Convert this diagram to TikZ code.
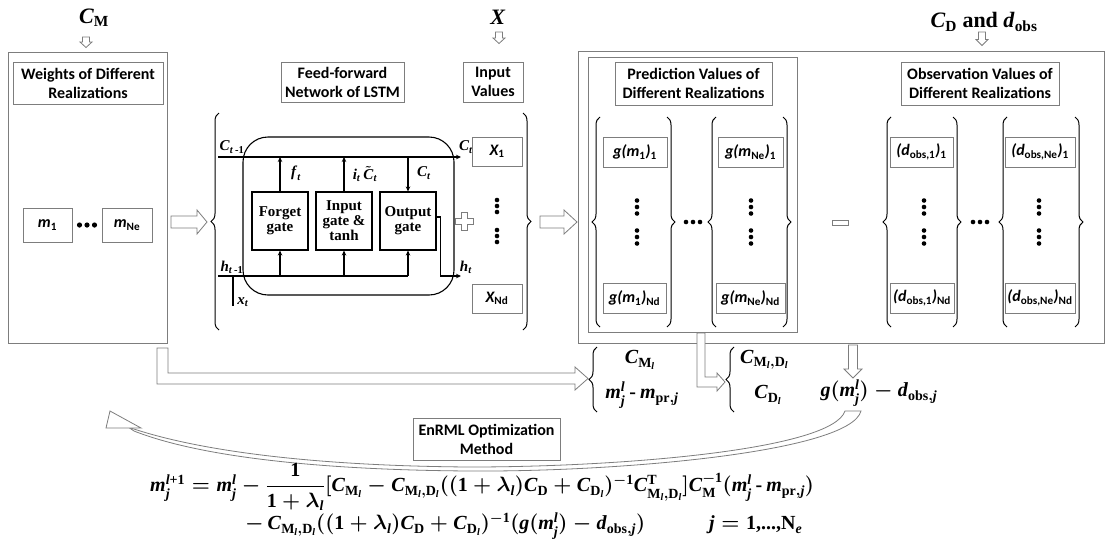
\documentclass[tikz,border=0pt]{standalone}
\usepackage{amsmath}
\usepackage{fontspec}
\setmainfont{Liberation Serif}
\newfontfamily\lab{Carlito}
\usetikzlibrary{decorations.pathreplacing,arrows.meta}

\definecolor{boxgray}{RGB}{125,125,125}
% bold italic / bold upright pieces for the formulas
\newcommand\mi[1]{\textbf{\textit{#1}}}
\newcommand\mr[1]{\textbf{#1}}
% sans bold italic entries with sans bold subscripts
\newcommand\sbi[1]{{\lab\bfseries\itshape #1}}
\newcommand\ssb[1]{\textsubscript{\lab\bfseries #1}}

\begin{document}
\begin{tikzpicture}[x=1pt,y=-1pt,
  lbl/.style={draw=boxgray, line width=0.9pt, font=\lab\bfseries\fontsize{16}{19}\selectfont, align=center, inner sep=0pt},
  outerbox/.style={draw=boxgray, line width=0.9pt, inner sep=0pt},
  gatebox/.style={draw, line width=1.1pt, font=\bfseries\fontsize{15}{15}\selectfont, align=center, minimum width=56, minimum height=58, inner sep=0pt},
  valbox/.style={draw=boxgray, line width=0.9pt, font=\lab\fontsize{16}{18}\selectfont, inner sep=0pt},
  hollow/.style={draw=boxgray, fill=white, line width=0.8pt},
  br/.style={decorate, decoration={brace, amplitude=8pt}, line width=1pt},
  lstm/.style={line width=1.1pt},
  tip/.style={-{Stealth[length=5pt,width=4.5pt]}},
  sm/.style={font=\fontsize{15}{17}\selectfont\boldmath, inner sep=0pt},
  ml/.style={font=\fontsize{22}{26}\selectfont\boldmath, inner sep=0pt},
  eq/.style={font=\fontsize{20}{24}\selectfont\boldmath, inner sep=0pt},
  dot/.style={fill=black}
]
\useasboundingbox (0,0) rectangle (1110,550);

% ---------- weights of the realizations ----------
\node[ml] (cm) at (94,18) {$\mi{C}_{\mr{M}}$};
\draw[hollow] (82.5,37) -- (89.5,37) -- (89.5,42) -- (92,42) -- (86,47.5) -- (80,42) -- (82.5,42) -- cycle;
\node[outerbox, minimum width=159, minimum height=291] (wbox) at (87.5,197.5) {};
\node[lbl, minimum width=150, minimum height=42] (wlab) at (88,83) {Weights of Different\\Realizations};
\node[valbox, minimum width=49, minimum height=34] (m1) at (47.5,225) {\sbi{m}\ssb{1}};
\node[valbox, minimum width=50, minimum height=34] (mne) at (127,225) {\sbi{m}\ssb{Ne}};
\foreach \k in {-7.5,0,7.5} \fill[dot] (87+\k,225) circle (2.6pt);
\draw[hollow] (171,216) -- (197,216) -- (197,210) -- (207,222) -- (197,234) -- (197,228) -- (171,228) -- cycle;

% ---------- LSTM cell and input values ----------
\node[lbl, minimum width=123, minimum height=40] (fflab) at (342.5,82) {Feed-forward\\Network of LSTM};
\node[ml] (xlab) at (498,17) {$\mi{X}$};
\draw[hollow] (495.5,32) -- (502.5,32) -- (502.5,38) -- (505,38) -- (499,43.5) -- (493,38) -- (495.5,38) -- cycle;
\node[lbl, minimum width=60, minimum height=40] (inlab) at (493,82) {Input\\Values};

\draw[br] (219,330) -- (219,113);
\draw[br] (523,113) -- (523,330);

\node[draw, lstm, rounded corners=25pt, minimum width=211, minimum height=158] (cell) at (348.5,216) {};
\node[gatebox] (fg) at (280,221) {Forget\\gate};
\node[gatebox] (ig) at (344,221) {Input\\gate \&\\tanh};
\node[gatebox] (og) at (408,221) {Output\\gate};

\coordinate (cin) at (218,157);
\coordinate (cout) at (461,157);
\coordinate (hin) at (218,276);
\coordinate (hout) at (461,276);
\coordinate (xt) at (233,306);

\draw[lstm, tip] (cin) -- (cout);
\draw[lstm, tip] (fg.north) -- (fg.north |- cin);
\draw[lstm, tip] (ig.north) -- (ig.north |- cin);
\draw[lstm, tip] (og.north |- cin) -- (og.north);
\draw[lstm] (hin) -- (og.south |- hin);
\draw[lstm, tip] (fg.south |- hin) -- (fg.south);
\draw[lstm, tip] (ig.south |- hin) -- (ig.south);
\draw[lstm, tip] (og.south |- hin) -- (og.south);
\draw[lstm, tip] ([yshift=4pt]og.east) -- ++(4,0) |- (hout);
\draw[lstm] (xt |- hin) -- (xt);

\node[sm] (lc1) at (232,147) {$\mi{C}_{\mi{t}\,\textbf{-1}}$};
\node[sm] (lc2) at (466,147) {$\mi{C}_{\mi{t}}$};
\node[sm] (lh1) at (232,267) {$\mi{h}_{\mi{t}\,\textbf{-1}}$};
\node[sm] (lh2) at (466,267) {$\mi{h}_{\mi{t}}$};
\node[sm] (lx) at (243,302) {$\mi{x}_{\mi{t}}$};
\node[sm] (lf) at (296,173) {$\mi{f}_{\mi{t}}$};
\node[sm] (li) at (365,174) {$\mi{i}_{\mi{t}}\,\tilde{\mi{C}}_{\mi{t}}$};
\node[sm] (lct) at (424,173) {$\mi{C}_{\mi{t}}$};

\draw[hollow] (461,212) -- (467,212) -- (467,218) -- (473,218) -- (473,224) -- (467,224) -- (467,230) -- (461,230) -- (461,224) -- (455,224) -- (455,218) -- (461,218) -- cycle;

\node[valbox, minimum width=50, minimum height=29] (x1) at (497,151.5) {\sbi{X}\ssb{1}};
\node[valbox, minimum width=50, minimum height=29] (xnd) at (497,298.5) {\sbi{X}\ssb{Nd}};
\foreach \c in {206,236} \foreach \k in {-6,0,6} \fill[dot] (497,\c+\k) circle (2.3pt);

\draw[hollow] (540,216) -- (564,216) -- (564,210) -- (577,222) -- (564,234) -- (564,228) -- (540,228) -- cycle;

% ---------- predictions and observations ----------
\node[ml] (cdlab) at (984,22) {$\mi{C}_{\mr{D}}$ \textbf{and} $\mi{d}_{\mr{obs}}$};
\draw[hollow] (978.5,32) -- (985.5,32) -- (985.5,39.5) -- (988,39.5) -- (982,45.5) -- (976,39.5) -- (978.5,39.5) -- cycle;
\node[outerbox, minimum width=526, minimum height=292] (rbox) at (841,197) {};
\node[outerbox, minimum width=209, minimum height=275] (pbox) at (692.5,194.5) {};
\node[lbl, minimum width=157, minimum height=43] (plab) at (693.5,83.5) {Prediction Values of\\Different Realizations};
\node[lbl, minimum width=158, minimum height=43] (olab) at (980,83.5) {Observation Values of\\Different Realizations};

% column brackets
\foreach \a/\b in {600/667, 716/783, 891/953, 1007/1075} {
  \draw[br] (\a,327) -- (\a,117);
  \draw[br] (\b,117) -- (\b,327);
}

\node[valbox, minimum width=64, minimum height=30] (g11) at (635,152) {\sbi{g(m}\ssb{1}\sbi{)}\ssb{1}};
\node[valbox, minimum width=65, minimum height=30] (gn1) at (750.5,152) {\sbi{g(m}\ssb{Ne}\sbi{)}\ssb{1}};
\node[valbox, minimum width=63, minimum height=30] (g1n) at (634.5,298) {\sbi{g(m}\ssb{1}\sbi{)}\ssb{Nd}};
\node[valbox, minimum width=69, minimum height=30] (gnn) at (750.5,298) {\sbi{g(m}\ssb{Ne}\sbi{)}\ssb{Nd}};
\node[valbox, minimum width=63, minimum height=30] (d11) at (921.5,152) {\sbi{(d}\ssb{obs,1}\sbi{)}\ssb{1}};
\node[valbox, minimum width=70, minimum height=30] (dn1) at (1040,152) {\sbi{(d}\ssb{obs,Ne}\sbi{)}\ssb{1}};
\node[valbox, minimum width=64, minimum height=30] (d1n) at (922,298) {\sbi{(d}\ssb{obs,1}\sbi{)}\ssb{Nd}};
\node[valbox, minimum width=70, minimum height=30] (dnn) at (1040,298) {\sbi{(d}\ssb{obs,Ne}\sbi{)}\ssb{Nd}};

\foreach \x in {637,751,924,1039} \foreach \c in {207,237} \foreach \k in {-6.5,0,6.5} \fill[dot] (\x,\c+\k) circle (2.3pt);
\foreach \x in {693,980} \foreach \k in {-7,0,7} \fill[dot] (\x+\k,222) circle (2.3pt);

\draw[hollow] (832,220) rectangle (848,225);

% ---------- update terms ----------
\draw[hollow] (157,348) -- (157,384) -- (575,384) -- (575,390) -- (588,378.5) -- (575,367) -- (575,373) -- (168,373) -- (168,348) -- cycle;
\draw[hollow] (697,333) -- (697,387) -- (717,387) -- (717,391) -- (725,382) -- (717,373) -- (717,377) -- (705,377) -- (705,333) -- cycle;
\draw[hollow] (848.5,345) -- (857.5,345) -- (857.5,369) -- (862,369) -- (853,378) -- (844,369) -- (848.5,369) -- cycle;

\draw[br] (597,412) -- (597,347);
\node[eq] (cml) at (640,360) {$\mi{C}_{\mr{M}_{\mi{l}}}$};
\node[eq] (mdiff) at (642,395) {$\mi{m}_{\mi{j}}^{\mi{l}}\,\textbf{-}\,\mi{m}_{\mr{pr},\mi{j}}$};
\draw[br] (734,412) -- (734,347);
\node[eq, anchor=west] (cmd) at (740,360) {$\mi{C}_{\mr{M}_{\mi{l}},\mr{D}_{\mi{l}}}$};
\node[eq] (cdl) at (768,395) {$\mi{C}_{\mr{D}_{\mi{l}}}$};
\node[eq] (gdiff) at (879,393) {$\mi{g}(\mi{m}_{\mi{j}}^{\mi{l}})-\mi{d}_{\mr{obs},\mi{j}}$};

% ---------- curved feedback arrow ----------
\draw[hollow] (845,411) -- (861,411) .. controls (850,452) and (620,472) .. (470,471)
  .. controls (320,470) and (200,457) .. (134,431) -- (128,427)
  .. controls (200,452) and (320,466) .. (470,467)
  .. controls (620,467) and (832,450) .. cycle;
\draw[hollow] (110,411) -- (106,428) -- (141,428) -- cycle;

\node[lbl, minimum width=147, minimum height=42, fill=white] (enrml) at (486.5,439) {EnRML Optimization\\Method};

% ---------- update formula ----------
\node[eq, anchor=west] (eq1) at (150,487) {$\mi{m}_{\mi{j}}^{\mi{l}\textbf{+1}}=\mi{m}_{\mi{j}}^{\mi{l}}-\dfrac{\textbf{1}}{\textbf{1}+\lambda_{\mi{l}}}[\mi{C}_{\mr{M}_{\mi{l}}}-\mi{C}_{\mr{M}_{\mi{l}},\mr{D}_{\mi{l}}}((\textbf{1}+\lambda_{\mi{l}})\mi{C}_{\mr{D}}+\mi{C}_{\mr{D}_{\mi{l}}})^{-\textbf{1}}\mi{C}_{\mr{M}_{\mi{l}},\mr{D}_{\mi{l}}}^{\mr{T}}]\mi{C}_{\mr{M}}^{-\textbf{1}}(\mi{m}_{\mi{j}}^{\mi{l}}\,\textbf{-}\,\mi{m}_{\mr{pr},\mi{j}})$};
\node[eq, anchor=west] (eq2) at (245,526) {$-\,\mi{C}_{\mr{M}_{\mi{l}},\mr{D}_{\mi{l}}}((\textbf{1}+\lambda_{\mi{l}})\mi{C}_{\mr{D}}+\mi{C}_{\mr{D}_{\mi{l}}})^{-\textbf{1}}(\mi{g}(\mi{m}_{\mi{j}}^{\mi{l}})-\mi{d}_{\mr{obs},\mi{j}})\hspace{64pt}\mi{j}=\textbf{1,...,N}_{\mi{e}}$};
\end{tikzpicture}
\end{document}
